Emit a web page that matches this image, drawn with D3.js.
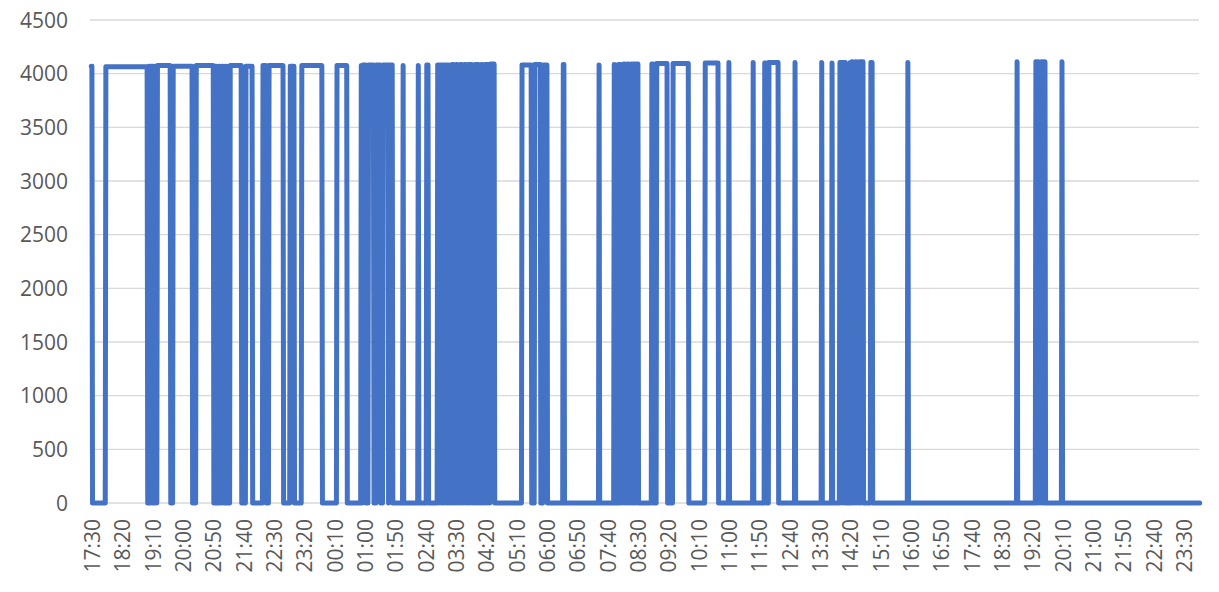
<!DOCTYPE html>
<html>
<head>
<meta charset="utf-8">
<script src="https://cdn.jsdelivr.net/npm/d3@7"></script>
<style>
  html, body { margin: 0; padding: 0; background: #fff; }
  svg { display: block; font-family: "Open Sans", "Noto Sans", sans-serif; }
</style>
</head>
<body>
<div id="chart"></div>
<script>
  // one sample per minute, sample 0 = 17:30, last sample = 23:57 next day
  const sampleCount = 1828;
  const tickEvery = 50;

  // x axis labels (every 50 samples)
  const tickLabels = ["17:30","18:20","19:10","20:00","20:50","21:40","22:30","23:20",
    "00:10","01:00","01:50","02:40","03:30","04:20","05:10","06:00","06:50","07:40",
    "08:30","09:20","10:10","11:00","11:50","12:40","13:30","14:20","15:10","16:00",
    "16:50","17:40","18:30","19:20","20:10","21:00","21:50","22:40","23:30"];

  const yTicks = [0, 500, 1000, 1500, 2000, 2500, 3000, 3500, 4000, 4500];

  // "on" periods: first and last on sample (index), and the value held; value is 0 otherwise
  const onStart = [0,24,95,97,99,102,104,106,109,135,
    173,205,210,215,221,226,229,
    255,283,293,328,347,405,445,448,454,457,
    467,470,478,481,491,
    514,539,553,571,575,579,582,586,589,592,
    595,599,602,605,608,612,615,619,622,625,
    629,633,636,640,643,646,649,654,658,710,
    731,745,778,837,862,869,872,875,878,881,
    884,887,890,893,896,899,924,932,959,1012,
    1051,1091,1110,1117,1160,1204,1221,1234,1238,1242,
    1251,1254,1257,1260,1263,1266,1269,1285,1346,1526,
    1557,1560,1563,1566,1569,1572,1600];
  const onEnd = [1,92,95,97,100,102,104,107,130,166,
    201,206,211,217,222,226,247,
    265,288,316,334,380,421,446,452,454,465,
    467,476,478,489,496,
    514,539,555,573,577,580,584,587,590,593,
    597,600,603,606,610,613,617,620,623,627,
    631,634,638,641,644,647,652,656,664,725,
    740,751,779,837,862,870,873,876,879,882,
    885,888,891,894,897,901,926,949,984,1033,
    1051,1091,1112,1132,1160,1204,1221,1236,1240,1243,
    1252,1255,1258,1261,1264,1267,1272,1287,1346,1526,
    1558,1561,1564,1567,1570,1572,1600];
  const onLevel = [4070,4065,4070,4070,4070,4070,4070,4070,4075,4070,
    4075,4070,4070,4070,4070,4070,4075,
    4070,4075,4075,4070,4075,4075,4075,4080,4075,4080,
    4075,4080,4075,4080,4080,
    4075,4075,4080,4080,4080,4080,4080,4080,4080,4080,
    4085,4080,4085,4080,4085,4080,4085,4080,4085,4085,
    4080,4085,4085,4080,4085,4080,4085,4085,4090,4080,
    4085,4080,4085,4080,4085,4085,4085,4085,4090,4085,
    4090,4085,4090,4090,4090,4090,4090,4095,4095,4100,
    4105,4105,4100,4105,4105,4105,4100,4105,4105,4105,
    4105,4110,4105,4110,4105,4110,4110,4105,4105,4110,
    4110,4110,4105,4110,4110,4110,4110];

  // line vertices: the off sample before, the on samples, the off sample after
  const pts = [];
  if (onStart[0] > 0) pts.push([0, 0]);
  onStart.forEach((a, i) => {
    const b = onEnd[i], v = onLevel[i];
    if (a > 0) pts.push([a - 1, 0]);
    pts.push([a, v], [b, v], [b + 1, 0]);
  });
  pts.push([sampleCount - 1, 0]);

  const W = 1219, H = 592;
  const plot = {left: 90, right: 1199, top: 20, bottom: 503};

  const x = d3.scaleLinear().domain([-0.5, sampleCount - 0.5]).range([plot.left + 1, plot.right + 1]);
  const y = d3.scaleLinear().domain([0, 4500]).range([plot.bottom, plot.top]);

  const svg = d3.select("#chart").append("svg")
    .attr("width", W)
    .attr("height", H);

  // gridlines
  svg.append("g")
    .selectAll("line")
    .data(yTicks)
    .join("line")
    .attr("x1", plot.left).attr("x2", plot.right)
    .attr("y1", d => y(d)).attr("y2", d => y(d))
    .attr("stroke", "#d9d9d9")
    .attr("stroke-width", 1.3);

  // y labels
  svg.append("g")
    .selectAll("text")
    .data(yTicks)
    .join("text")
    .attr("x", 68)
    .attr("y", d => y(d))
    .attr("dy", "0.36em")
    .attr("text-anchor", "end")
    .attr("fill", "#595959")
    .style("font-size", "21px")
    .text(d => d);

  // x labels
  svg.append("g")
    .selectAll("text")
    .data(tickLabels)
    .join("text")
    .attr("transform", (d, i) => `translate(${x(i * tickEvery) + 1},519) rotate(-90)`)
    .attr("dy", "0.36em")
    .attr("text-anchor", "end")
    .attr("fill", "#595959")
    .style("font-size", "21px")
    .text(d => d);

  const line = d3.line()
    .x(d => x(d[0]))
    .y(d => y(d[1]));

  svg.append("path")
    .datum(pts)
    .attr("d", line)
    .attr("fill", "none")
    .attr("stroke", "#4472c4")
    .attr("stroke-width", 5)
    .attr("stroke-linejoin", "round")
    .attr("stroke-linecap", "round");
</script>
</body>
</html>
